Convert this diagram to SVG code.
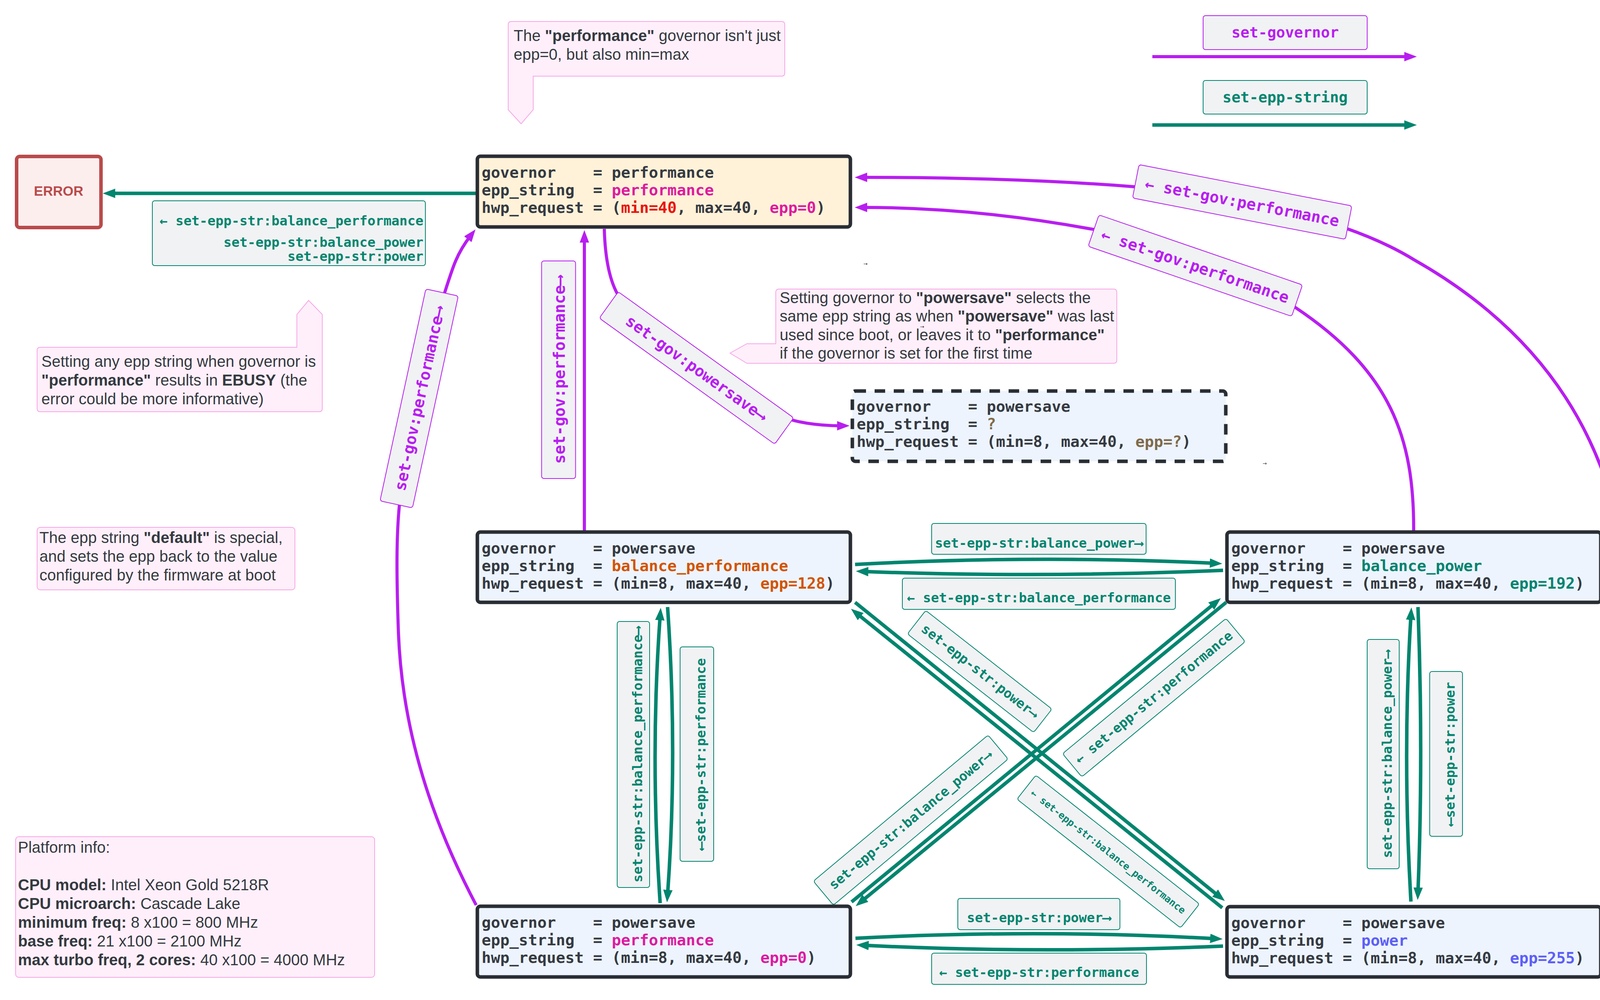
<svg xmlns="http://www.w3.org/2000/svg" width="4219" height="2560" viewBox="0 0 4219 2560">
<style>
.bg{fill:#ffffff}
.node{stroke:#292d34;stroke-width:9}
.nfill{fill:#edf4fd}
.nx{font-family:"DejaVu Sans Mono","Liberation Mono",monospace;font-weight:bold;font-size:39.5px;fill:#353a42}
.ep{fill:#b81ef0;stroke:#b81ef0;stroke-width:8;fill:none}
.et{stroke:#00856f;stroke-width:9;fill:none}
.lt rect{fill:#f1f2f4;stroke:#00856f;stroke-width:2}
.lt text{fill:#00856f;font-family:"DejaVu Sans Mono","Liberation Mono",monospace;font-weight:bold;font-size:34px;text-anchor:middle}
.lp rect{fill:#f1f2f4;stroke:#b81ef0;stroke-width:2}
.lp text{fill:#b81ef0;font-family:"DejaVu Sans Mono","Liberation Mono",monospace;font-weight:bold;font-size:40px;text-anchor:middle}
.note{fill:#ffeffa;stroke:#f7a6e6;stroke-width:2}
.nt{font-family:"Liberation Sans",Arial,sans-serif;font-size:40px;fill:#343a40}
.b{font-weight:bold}
.tiny{font-family:"DejaVu Sans",sans-serif;font-size:13px;fill:#333333}
</style>
<defs>
<marker id="ahp" markerUnits="userSpaceOnUse" markerWidth="32" markerHeight="24" viewBox="0 0 32 24" refX="12" refY="12" orient="auto"><path d="M0,0 L32,12 L0,24 z" fill="#b81ef0"/></marker>
<marker id="aht" markerUnits="userSpaceOnUse" markerWidth="32" markerHeight="24" viewBox="0 0 32 24" refX="12" refY="12" orient="auto"><path d="M0,0 L32,12 L0,24 z" fill="#00856f"/></marker>
</defs>
<rect class="bg" x="0" y="0" width="4219" height="2560"/>

<!-- legend -->
<g id="legend">
<g class="lp"><rect x="3080" y="40" width="420" height="87" rx="6"/><text x="3290" y="96" style="font-size:38px">set-governor</text></g>
<path class="ep" d="M2950,145 L3607,145" marker-end="url(#ahp)" stroke="#b81ef0"/>
<g class="lt"><rect x="3080" y="206" width="420" height="86" rx="6"/><text x="3290" y="262" style="font-size:38px">set-epp-string</text></g>
<path class="et" d="M2950,320 L3607,320" marker-end="url(#aht)"/>
</g>

<!-- notes -->
<g id="note-perf">
<path class="note" d="M1309,55 H2001 Q2009,55 2009,63 V187 Q2009,195 2001,195 H1365 V281 L1334,317 L1301,281 V63 Q1301,55 1309,55 Z"/>
<text class="nt" x="1315" y="105">The <tspan class="b">"performance"</tspan> governor isn't just</text>
<text class="nt" x="1315" y="153">epp=0, but also min=max</text>
</g>
<g id="note-ebusy">
<path class="note" d="M103,889 H760 V805 L790,769 L825,805 V1046 Q825,1054 817,1054 H103 Q95,1054 95,1046 V897 Q95,889 103,889 Z"/>
<text class="nt" x="106" y="939">Setting any epp string when governor is</text>
<text class="nt" x="106" y="987"><tspan class="b">"performance"</tspan> results in <tspan class="b">EBUSY</tspan> (the</text>
<text class="nt" x="106" y="1035">error could be more informative)</text>
</g>
<g id="note-powersave">
<path class="note" d="M1994,740 H2851 Q2859,740 2859,748 V922 Q2859,930 2851,930 H1912 L1869,904 L1912,880 H1986 V748 Q1986,740 1994,740 Z"/>
<text class="nt" x="1996" y="776">Setting governor to <tspan class="b">"powersave"</tspan> selects the</text>
<text class="nt" x="1996" y="823">same epp string as when <tspan class="b">"powersave"</tspan> was last</text>
<text class="nt" x="1996" y="871">used since boot, or leaves it to <tspan class="b">"performance"</tspan></text>
<text class="nt" x="1996" y="918">if the governor is set for the first time</text>
</g>
<g id="note-default">
<rect class="note" x="95" y="1350" width="660" height="160" rx="8"/>
<text class="nt" x="101" y="1390">The epp string <tspan class="b">"default"</tspan> is special,</text>
<text class="nt" x="101" y="1438">and sets the epp back to the value</text>
<text class="nt" x="101" y="1486">configured by the firmware at boot</text>
</g>
<g id="note-platform">
<rect class="note" x="40" y="2142" width="919" height="360" rx="8"/>
<text class="nt" x="46" y="2183">Platform info:</text>
<text class="nt" x="46" y="2279"><tspan class="b">CPU model:</tspan> Intel Xeon Gold 5218R</text>
<text class="nt" x="46" y="2327"><tspan class="b">CPU microarch:</tspan> Cascade Lake</text>
<text class="nt" x="46" y="2375"><tspan class="b">minimum freq:</tspan> 8 x100 = 800 MHz</text>
<text class="nt" x="46" y="2423"><tspan class="b">base freq:</tspan> 21 x100 = 2100 MHz</text>
<text class="nt" x="46" y="2471"><tspan class="b">max turbo freq, 2 cores:</tspan> 40 x100 = 4000 MHz</text>
</g>

<!-- connectors -->
<g id="connectors">
<path class="et" d="M1218,495 L283,495" marker-end="url(#aht)"/>
<path class="ep" d="M1496,1358 L1496,609" marker-end="url(#ahp)"/>
<path class="ep" d="M1547,586 C1549,660 1560,720 1585,760 L2000,1065 C2030,1080 2090,1090 2155,1090" marker-end="url(#ahp)"/>
<path class="ep" d="M4101,2320 C4160,2050 4185,1800 4178,1640 C4170,1200 4000,880 3620,665 C3450,560 3150,495 2903,478 C2700,462 2450,454 2208,454" marker-end="url(#ahp)"/>
<path class="ep" d="M3619,1358 C3620,1120 3560,950 3316,787 C3200,700 2950,610 2792,586 C2650,560 2450,531 2208,531" marker-end="url(#ahp)"/>
<path class="ep" d="M1219,2317 C1110,2110 1030,1880 1020,1620 C1014,1450 1015,1350 1025,1270 L1135,760 C1160,680 1170,648 1205,603" marker-end="url(#ahp)"/>
<path class="et" d="M2189,1445 Q2660,1420 3109,1442" marker-end="url(#aht)"/>
<path class="et" d="M3131,1460 Q2660,1480 2211,1463" marker-end="url(#aht)"/>
<path class="et" d="M2190,2402 Q2660,2378 3110,2403" marker-end="url(#aht)"/>
<path class="et" d="M3131,2422 Q2660,2442 2212,2420" marker-end="url(#aht)"/>
<path class="et" d="M1690,2312 Q1664,1934 1690,1576" marker-end="url(#aht)"/>
<path class="et" d="M1709,1554 Q1735,1930 1709,2290" marker-end="url(#aht)"/>
<path class="et" d="M3612,2308 Q3590,1930 3612,1575" marker-end="url(#aht)"/>
<path class="et" d="M3630,1554 Q3644,1930 3630,2284" marker-end="url(#aht)"/>
<path class="et" d="M2189,1542 L3120,2294" marker-end="url(#aht)"/>
<path class="et" d="M3129,2324 L2194,1571" marker-end="url(#aht)"/>
<path class="et" d="M2180,2309 L3110,1544" marker-end="url(#aht)"/>
<path class="et" d="M3139,1542 L2206,2307" marker-end="url(#aht)"/>
</g>

<!-- edge labels -->
<g id="edge-labels">
<g class="lt"><rect x="390" y="514" width="699" height="166" rx="6"/>
<text x="1084" y="577" style="text-anchor:end">← set-epp-str:balance_performance</text>
<text x="1084" y="632" style="text-anchor:end">set-epp-str:balance_power</text>
<text x="1084" y="668" style="text-anchor:end">set-epp-str:power</text></g>
<g class="lp" transform="translate(1430,946.5) rotate(-90)"><rect x="-278.5" y="-43.5" width="557" height="87" rx="6"/><text y="16">set-gov:performance⟶</text></g>
<g class="lp" transform="translate(1073,1020) rotate(-77.8)"><rect x="-277.5" y="-42.5" width="555" height="85" rx="6"/><text y="15">set-gov:performance⟶</text></g>
<g class="lp" transform="translate(1783,942) rotate(35.7)"><rect x="-276.5" y="-41.5" width="553" height="83" rx="6"/><text y="15">set-gov:powersave⟶</text></g>
<g class="lp" transform="translate(3180,517) rotate(11)"><rect x="-277.5" y="-43.5" width="555" height="87" rx="6"/><text y="15">← set-gov:performance</text></g>
<g class="lp" transform="translate(3060,680) rotate(19)"><rect x="-275.5" y="-42.5" width="551" height="85" rx="6"/><text y="15">← set-gov:performance</text></g>
<g class="lt" transform="translate(2659.5,1379.5)"><rect x="-274.5" y="-39.5" width="549" height="79" rx="6"/><text y="22">set-epp-str:balance_power⟶</text></g>
<g class="lt" transform="translate(2659.5,1520)"><rect x="-349.5" y="-40" width="699" height="80" rx="6"/><text y="22">← set-epp-str:balance_performance</text></g>
<g class="lt" transform="translate(2659.5,2340)"><rect x="-207.5" y="-40" width="415" height="80" rx="6"/><text y="21">set-epp-str:power⟶</text></g>
<g class="lt" transform="translate(2660,2480)"><rect x="-275" y="-40" width="550" height="80" rx="6"/><text y="21">← set-epp-str:performance</text></g>
<g class="lt" transform="translate(1621.5,1931.5) rotate(-90)"><rect x="-340.5" y="-41.5" width="681" height="83" rx="6"/><text y="22">set-epp-str:balance_performance⟶</text></g>
<g class="lt" transform="translate(1784,1930.5) rotate(-90)"><rect x="-274.5" y="-43" width="549" height="86" rx="6"/><text y="22">⟵set-epp-str:performance</text></g>
<g class="lt" transform="translate(3541,1930.5) rotate(-90)"><rect x="-293.5" y="-41" width="587" height="82" rx="6"/><text y="22">set-epp-str:balance_power⟶</text></g>
<g class="lt" transform="translate(3702,1930) rotate(-90)"><rect x="-211" y="-42" width="422" height="84" rx="6"/><text y="22">⟵set-epp-str:power</text></g>
<g class="lt" transform="translate(2508,1719) rotate(38)"><rect x="-205" y="-38" width="410" height="76" rx="6"/><text y="11">set-epp-str:power⟶</text></g>
<g class="lt" transform="translate(2954,1786) rotate(-39.6)"><rect x="-271.5" y="-38.5" width="543" height="77" rx="6"/><text y="11">← set-epp-str:performance</text></g>
<g class="lt" transform="translate(2331.5,2099.5) rotate(-39.9)"><rect x="-291.5" y="-40" width="583" height="80" rx="6"/><text y="11">set-epp-str:balance_power⟶</text></g>
<g class="lt" transform="translate(2837,2180) rotate(38.2)"><rect x="-266.5" y="-39" width="533" height="78" rx="6"/><text y="9" style="font-size:25px">← set-epp-str:balance_performance</text></g>
<text class="tiny" x="2210" y="680">→</text>
<text class="tiny" x="2355" y="841">→</text>
<text class="tiny" x="3232" y="1191">→</text>
</g>

<!-- nodes -->
<g id="n-error">
<rect x="42.5" y="400.5" width="216" height="182" rx="8" fill="#fdeeee" stroke="#b94b4b" stroke-width="9"/>
<text x="150" y="501" style="font-family:'Liberation Sans',Arial,sans-serif;font-weight:bold;font-size:35px;fill:#b94b4b;text-anchor:middle">ERROR</text>
</g>
<g id="n-performance">
<rect class="node" x="1222" y="400" width="955" height="181" rx="8" fill="#fff2d9"/>
<text class="nx" x="1233" y="455" xml:space="preserve">governor    = performance</text>
<text class="nx" x="1233" y="500" xml:space="preserve">epp_string  = <tspan fill="#dd1ba0">performance</tspan></text>
<text class="nx" x="1233" y="545" xml:space="preserve">hwp_request = (<tspan fill="#e8140c">min=40</tspan>, max=40, <tspan fill="#dd1ba0">epp=0</tspan>)</text>
</g>
<g id="n-powersave-unknown">
<rect class="node nfill" x="2182" y="1001" width="956" height="180" rx="8" stroke-dasharray="27 22"/>
<text class="nx" x="2193" y="1054" xml:space="preserve">governor    = powersave</text>
<text class="nx" x="2193" y="1099" xml:space="preserve">epp_string  = <tspan fill="#7f6a4c">?</tspan></text>
<text class="nx" x="2193" y="1144" xml:space="preserve">hwp_request = (min=8, max=40, <tspan fill="#7f6a4c">epp=?</tspan>)</text>
</g>
<g id="n-balance-performance">
<rect class="node nfill" x="1222" y="1362" width="955" height="180" rx="8"/>
<text class="nx" x="1233" y="1417" xml:space="preserve">governor    = powersave</text>
<text class="nx" x="1233" y="1462" xml:space="preserve">epp_string  = <tspan fill="#d35400">balance_performance</tspan></text>
<text class="nx" x="1233" y="1507" xml:space="preserve">hwp_request = (min=8, max=40, <tspan fill="#d35400">epp=128</tspan>)</text>
</g>
<g id="n-balance-power">
<rect class="node nfill" x="3141" y="1362" width="957" height="180" rx="8"/>
<text class="nx" x="3152" y="1417" xml:space="preserve">governor    = powersave</text>
<text class="nx" x="3152" y="1462" xml:space="preserve">epp_string  = <tspan fill="#00836f">balance_power</tspan></text>
<text class="nx" x="3152" y="1507" xml:space="preserve">hwp_request = (min=8, max=40, <tspan fill="#00836f">epp=192</tspan>)</text>
</g>
<g id="n-ps-performance">
<rect class="node nfill" x="1222" y="2320" width="955" height="181" rx="8"/>
<text class="nx" x="1233" y="2375" xml:space="preserve">governor    = powersave</text>
<text class="nx" x="1233" y="2420" xml:space="preserve">epp_string  = <tspan fill="#dd1ba0">performance</tspan></text>
<text class="nx" x="1233" y="2465" xml:space="preserve">hwp_request = (min=8, max=40, <tspan fill="#dd1ba0">epp=0</tspan>)</text>
</g>
<g id="n-power">
<rect class="node nfill" x="3141" y="2321" width="957" height="180" rx="8"/>
<text class="nx" x="3152" y="2376" xml:space="preserve">governor    = powersave</text>
<text class="nx" x="3152" y="2421" xml:space="preserve">epp_string  = <tspan fill="#5d5ff7">power</tspan></text>
<text class="nx" x="3152" y="2466" xml:space="preserve">hwp_request = (min=8, max=40, <tspan fill="#5d5ff7">epp=255</tspan>)</text>
</g>
</svg>
